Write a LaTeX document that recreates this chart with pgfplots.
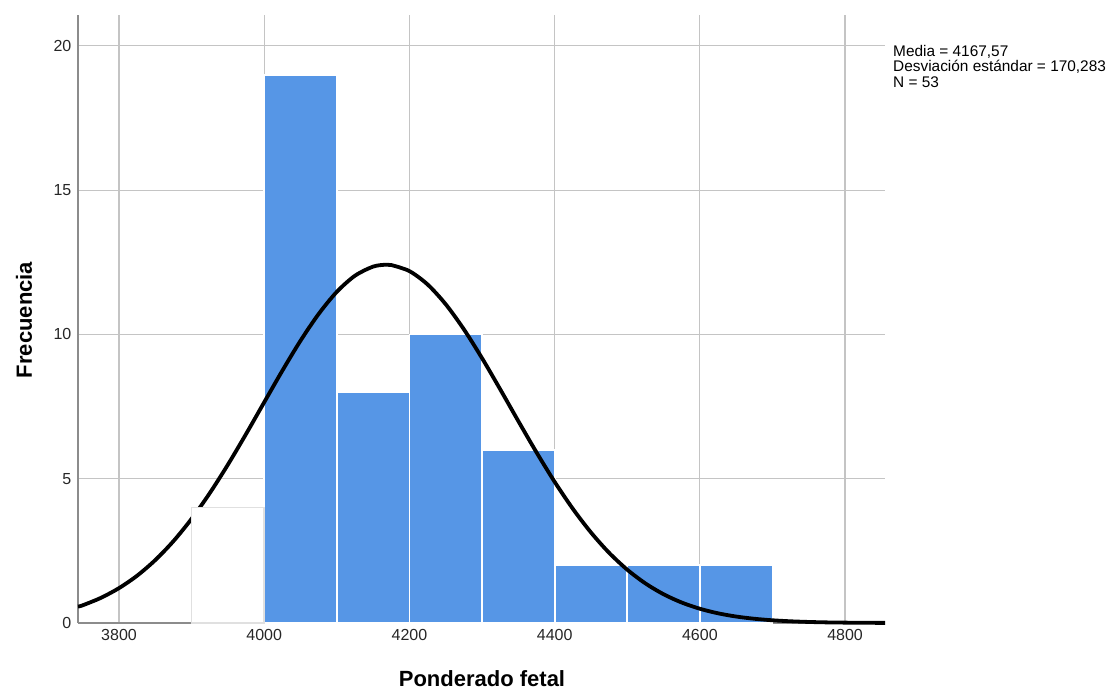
\documentclass[border=0pt]{standalone}
\usepackage{pgfplots}
\pgfplotsset{compat=1.18}
\usepackage{fontspec}
\setmainfont{Liberation Sans}
\definecolor{barblue}{RGB}{86,150,230}
\definecolor{gridgray}{RGB}{196,196,196}
\definecolor{axgray}{RGB}{140,140,140}
\begin{document}
\begin{tikzpicture}[x=1pt,y=1pt]
\useasboundingbox (0,0) rectangle (1112,691);
\begin{axis}[
  at={(78pt,68pt)}, anchor=south west,
  scale only axis, width=807pt, height=608pt,
  xmin=3743.5, xmax=4855, ymin=0, ymax=21.07,
  axis lines=left,
  axis line style={-, axgray, line width=1.8pt},
  xtick={3800,4000,...,4800},
  ytick={0,5,10,15,20},
  grid=major,
  major grid style={gridgray, line width=1.2pt},
  tick style={draw=none},
  /pgf/number format/assume math mode=true,
  /pgf/number format/set thousands separator={},
  tick label style={font=\fontsize{16}{18}\selectfont, text=black!85},
  xticklabel style={yshift=-1pt},
  yticklabel style={xshift=-1pt},
  clip=false,
]
\addplot[ybar interval, fill=barblue, draw=white, line width=1.8pt] coordinates {
  (4000,19) (4100,8) (4200,10) (4300,6) (4400,2) (4500,2) (4600,2) (4700,2)
};
\addplot[black, line width=3.8pt, smooth, no marks] coordinates {
  (3743.5,0.57) (3750,0.614) (3775,0.871) (3800,1.209) (3825,1.641) (3850,2.182)
  (3875,2.838) (3900,3.613) (3925,4.501) (3950,5.489) (3975,6.551) (4000,7.651)
  (4025,8.746) (4050,9.784) (4075,10.711) (4100,11.477) (4125,12.035) (4150,12.351)
  (4167.57,12.417) (4175,12.405) (4200,12.194) (4225,11.731) (4250,11.044)
  (4275,10.176) (4300,9.177) (4325,8.099) (4350,6.995) (4375,5.913) (4400,4.891)
  (4425,3.960) (4450,3.138) (4475,2.433) (4500,1.847) (4525,1.372) (4550,0.997)
  (4575,0.709) (4600,0.494) (4625,0.336) (4650,0.224) (4675,0.147) (4700,0.094)
  (4725,0.059) (4750,0.036) (4775,0.021) (4800,0.013) (4825,0.007) (4855,0.004)
};
\addplot[ybar interval, fill=white, draw=black!12, line width=1.5pt] coordinates {
  (3900,4) (4000,4)
};
\end{axis}
\node[anchor=north west, align=left, font=\fontsize{15.4}{15.5}\selectfont, inner sep=0pt] at (893,646) {Media = 4167,57\\Desviación estándar = 170,283\\N = 53};
\node[anchor=base, rotate=90, font=\fontsize{22}{25}\selectfont\bfseries] at (32,371) {Frecuencia};
\node[anchor=base, font=\fontsize{22}{25}\selectfont\bfseries] at (482,4) {Ponderado fetal};
\end{tikzpicture}
\end{document}
